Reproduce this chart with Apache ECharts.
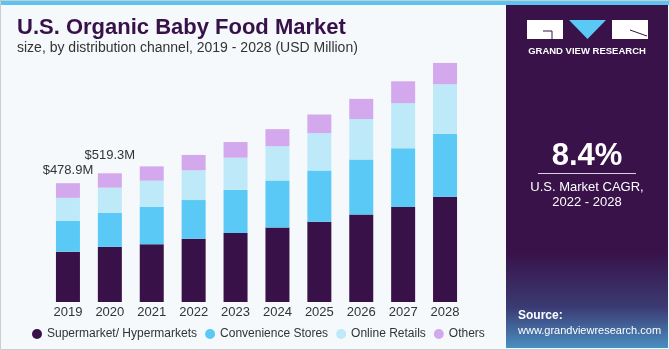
<!DOCTYPE html>
<html>
<head>
<meta charset="utf-8">
<script src="https://cdn.jsdelivr.net/npm/echarts@6/dist/echarts.min.js"></script>
<style>
  html, body { margin: 0; padding: 0; background: #f5f9fc; }
  #chart { width: 670px; height: 350px; }
</style>
</head>
<body>
<div id="chart"></div>
<script>
// values (USD Million)
const years = ['2019', '2020', '2021', '2022', '2023', '2024', '2025', '2026', '2027', '2028']
const supermarket = [203, 222, 233, 255, 278, 300, 324, 353, 383, 424]
const convenience = [124, 137, 151, 156, 174, 190, 206, 222, 237, 254]
const online = [93, 102, 105, 120, 130, 138, 151, 163, 182, 200]
const others = [59, 58, 58, 62, 63, 69, 75, 81, 88, 86]
const totalLabels = ['$478.9M', '$519.3M']

const seriesNames = ['Supermarket/ Hypermarkets', 'Convenience Stores', 'Online Retails', 'Others']
const colors = ['#371148', '#5bc9f6', '#bee9f9', '#d4a8ec']

const font = '"Liberation Sans", Arial, sans-serif'
const purple = '#371148'

const chart = echarts.init(document.getElementById('chart'))

// the two first totals sit above their bars
const othersData = others.map((v, i) => {
  if (i >= totalLabels.length) return v
  return {
    value: v,
    label: {
      show: true,
      position: 'top',
      distance: i === 0 ? 6 : 11,
      formatter: totalLabels[i],
      color: '#333',
      fontSize: 13,
      fontFamily: font
    }
  }
})

const stackData = [supermarket, convenience, online, othersData]

chart.setOption({
  backgroundColor: '#f5f9fc',
  animation: false,
  color: colors,
  grid: { left: 47, right: 204, top: 54, bottom: 48 },
  xAxis: {
    type: 'category',
    data: years,
    axisLine: { show: false },
    axisTick: { show: false },
    axisLabel: { color: '#333', fontSize: 13, fontFamily: font, margin: 4 }
  },
  yAxis: {
    type: 'value',
    min: 0,
    max: 1000,
    show: false
  },
  legend: {
    left: 27,
    top: 323,
    icon: 'circle',
    itemWidth: 10,
    itemHeight: 10,
    itemGap: 8,
    data: seriesNames,
    textStyle: { color: '#333', fontSize: 12, fontFamily: font }
  },
  series: seriesNames.map((name, i) => ({
    name: name,
    type: 'bar',
    stack: 'total',
    barWidth: 24,
    data: stackData[i],
    itemStyle: { color: colors[i] }
  })),
  graphic: [
    // top stripe + frame
    { type: 'rect', shape: { x: 0, y: 0, width: 670, height: 5 }, style: { fill: '#5bc3ef' } },
    { type: 'rect', shape: { x: 0.5, y: 0.5, width: 669, height: 349 }, style: { fill: 'none', stroke: '#c8cdd2', lineWidth: 1 } },
    // titles
    { type: 'text', left: 17, top: 17, style: { text: 'U.S. Organic Baby Food Market', fill: purple, font: 'bold 22px ' + font } },
    { type: 'text', left: 17, top: 41, style: { text: 'size, by distribution channel, 2019 - 2028 (USD Million)', fill: '#333', font: '14px ' + font } },
    // right panel
    {
      type: 'rect',
      shape: { x: 506, y: 5, width: 162, height: 343 },
      style: {
        fill: new echarts.graphic.LinearGradient(0, 0, 0, 1, [
          { offset: 0, color: '#381249' },
          { offset: 0.72, color: '#381249' },
          { offset: 0.88, color: '#3b3a72' },
          { offset: 1, color: '#4a8fc2' }
        ])
      }
    },
    // logo blocks
    { type: 'rect', shape: { x: 527, y: 20, width: 36, height: 19 }, style: { fill: '#fff' } },
    { type: 'polyline', shape: { points: [[543, 31], [552, 31], [552, 39]] }, style: { stroke: purple, lineWidth: 1, fill: 'none' } },
    { type: 'polygon', shape: { points: [[569, 20], [606, 20], [587.5, 39]] }, style: { fill: '#5bc9f6' } },
    { type: 'rect', shape: { x: 612, y: 20, width: 36, height: 19 }, style: { fill: '#fff' } },
    { type: 'line', shape: { x1: 630, y1: 30, x2: 647, y2: 36 }, style: { stroke: purple, lineWidth: 1 } },
    { type: 'text', x: 587, y: 51, style: { text: 'GRAND VIEW RESEARCH', fill: '#fff', font: 'bold 9.5px ' + font, align: 'center', verticalAlign: 'middle' } },
    // CAGR
    { type: 'text', x: 587, y: 156, style: { text: '8.4%', fill: '#fff', font: 'bold 31px ' + font, align: 'center', verticalAlign: 'middle' } },
    { type: 'line', shape: { x1: 538, y1: 173.5, x2: 636, y2: 173.5 }, style: { stroke: '#d8d0de', lineWidth: 1 } },
    { type: 'text', x: 587, y: 187, style: { text: 'U.S. Market CAGR,', fill: '#fff', font: '13px ' + font, align: 'center', verticalAlign: 'middle' } },
    { type: 'text', x: 587, y: 202, style: { text: '2022 - 2028', fill: '#fff', font: '13px ' + font, align: 'center', verticalAlign: 'middle' } },
    // source
    { type: 'text', x: 518, y: 316, style: { text: 'Source:', fill: '#fff', font: 'bold 12px ' + font, verticalAlign: 'middle' } },
    { type: 'text', x: 518, y: 331, style: { text: 'www.grandviewresearch.com', fill: '#fff', font: '11px ' + font, verticalAlign: 'middle' } }
  ]
})
</script>
</body>
</html>
